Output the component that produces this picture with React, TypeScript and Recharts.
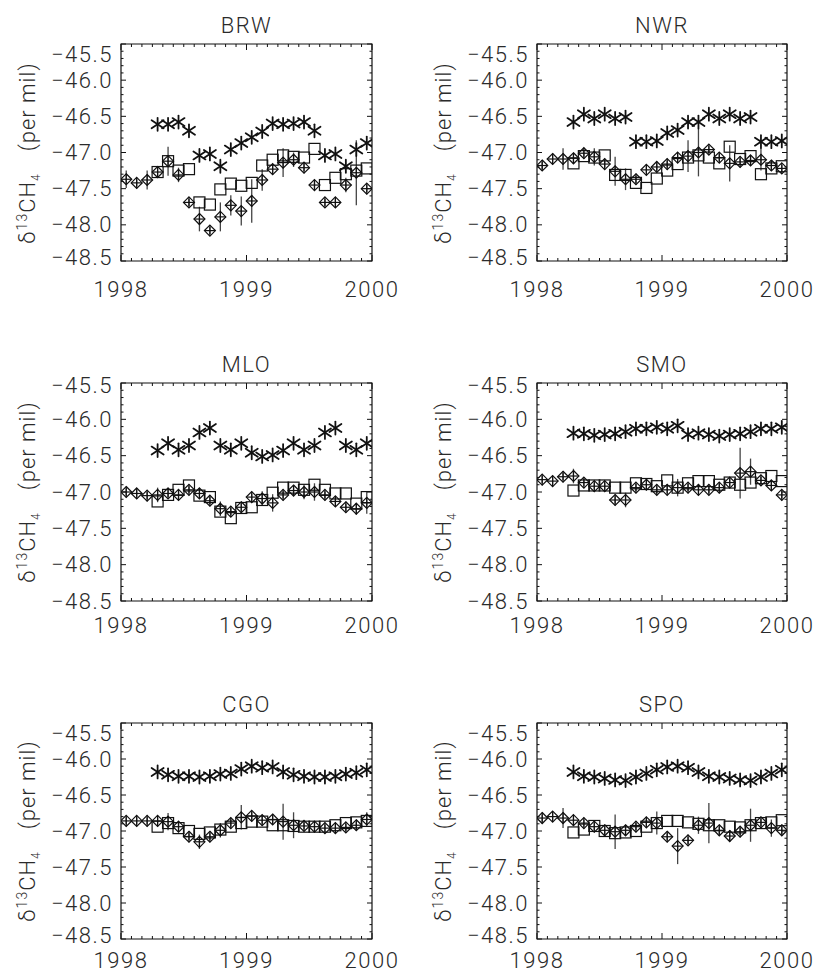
import React from 'react';
import { ScatterChart, Scatter, XAxis, YAxis, ErrorBar, ReferenceArea } from 'recharts';

// mid-month positions, Jan 1998 .. Dec 1999
const MONTHS = Array.from({ length: 24 }, (_, i) => 1998 + (i + 0.5) / 12);

const X_MAJOR = [1998, 1999, 2000];
const Y_MAJOR = [-48.5, -48.0, -47.5, -47.0, -46.5, -46.0, -45.5];

// minor tick positions (monthly on x, 0.1 permil on y)
const X_TICKS = Array.from({ length: 25 }, (_, i) => 1998 + i / 12);
const Y_TICKS = Array.from({ length: 31 }, (_, i) => Math.round((-48.5 + i * 0.1) * 10) / 10);

const BRW_STAR = [null, null, null, -46.61, -46.61, -46.58, -46.7, -47.04, -47.02, -47.19, -46.96, -46.87, -46.79, -46.71, -46.6, -46.61, -46.6, -46.58, -46.7, -47.04, -47.02, -47.19, -46.96, -46.87];
const BRW_SQUARE = [null, null, null, -47.27, -47.12, -47.25, -47.23, -47.69, -47.72, -47.51, -47.43, -47.46, -47.42, -47.18, -47.1, -47.04, -47.06, -47.07, -46.95, -47.45, -47.35, -47.3, -47.25, -47.22];
const BRW_DIAMOND = [-47.37, -47.42, -47.38, -47.27, -47.12, -47.31, -47.69, -47.92, -48.08, -47.89, -47.73, -47.81, -47.67, -47.38, -47.23, -47.14, -47.1, -47.21, -47.45, -47.69, -47.69, -47.45, -47.28, -47.5];
const BRW_ERR = [0.12, 0.05, 0.13, 0.05, 0.2, 0.1, 0.05, 0.17, 0.05, 0.2, 0.14, 0.2, 0.3, 0.15, 0.05, 0.2, 0.1, 0.05, 0.05, 0.05, 0.05, 0.1, 0.45, 0.05];

const NWR_STAR = [null, null, null, -46.58, -46.47, -46.53, -46.47, -46.53, -46.51, -46.85, -46.85, -46.84, -46.73, -46.69, -46.58, -46.58, -46.47, -46.53, -46.47, -46.53, -46.51, -46.85, -46.85, -46.84];
const NWR_SQUARE = [null, null, null, -47.15, -47.05, -47.07, -47.04, -47.31, -47.31, -47.42, -47.49, -47.36, -47.25, -47.16, -47.07, -47.04, -47.07, -47.15, -46.92, -47.09, -47.05, -47.3, -47.22, -47.19];
const NWR_DIAMOND = [-47.18, -47.09, -47.09, -47.08, -47.01, -47.06, -47.16, -47.26, -47.37, -47.37, -47.24, -47.2, -47.16, -47.07, -47.05, -47.0, -46.96, -47.07, -47.15, -47.13, -47.11, -47.1, -47.18, -47.22];
const NWR_ERR = [0.05, 0.05, 0.15, 0.05, 0.05, 0.12, 0.05, 0.2, 0.15, 0.05, 0.05, 0.05, 0.05, 0.05, 0.22, 0.33, 0.05, 0.05, 0.25, 0.05, 0.05, 0.15, 0.05, 0.05];

const MLO_STAR = [null, null, null, -46.43, -46.33, -46.42, -46.36, -46.18, -46.12, -46.36, -46.42, -46.33, -46.46, -46.51, -46.49, -46.43, -46.33, -46.42, -46.36, -46.18, -46.12, -46.36, -46.42, -46.33];
const MLO_SQUARE = [null, null, null, -47.13, -47.04, -46.97, -46.91, -47.05, -47.07, -47.27, -47.36, -47.22, -47.21, -47.11, -47.01, -46.94, -46.94, -46.97, -46.9, -46.97, -47.02, -47.02, -47.16, -47.07];
const MLO_DIAMOND = [-47.0, -47.02, -47.05, -47.04, -47.02, -47.04, -46.97, -47.02, -47.12, -47.23, -47.27, -47.21, -47.07, -47.09, -47.15, -47.04, -46.98, -47.0, -47.0, -47.04, -47.13, -47.21, -47.23, -47.15];
const MLO_ERR = [0.05, 0.05, 0.05, 0.1, 0.05, 0.05, 0.05, 0.05, 0.05, 0.1, 0.05, 0.05, 0.05, 0.1, 0.12, 0.05, 0.05, 0.1, 0.12, 0.05, 0.05, 0.05, 0.08, 0.15];

const SMO_STAR = [null, null, null, -46.19, -46.2, -46.22, -46.21, -46.2, -46.17, -46.13, -46.13, -46.11, -46.13, -46.09, -46.21, -46.19, -46.21, -46.23, -46.21, -46.2, -46.17, -46.13, -46.13, -46.11];
const SMO_SQUARE = [null, null, null, -46.98, -46.91, -46.91, -46.91, -46.94, -46.94, -46.88, -46.89, -46.92, -46.84, -46.94, -46.88, -46.85, -46.85, -46.9, -46.87, -46.9, -46.87, -46.81, -46.78, -46.85];
const SMO_DIAMOND = [-46.83, -46.85, -46.79, -46.78, -46.87, -46.92, -46.92, -47.11, -47.11, -46.94, -46.9, -46.97, -46.97, -46.94, -46.94, -46.97, -46.97, -46.94, -46.87, -46.74, -46.72, -46.84, -46.91, -47.04];
const SMO_ERR = [0.05, 0.05, 0.05, 0.1, 0.05, 0.05, 0.05, 0.05, 0.1, 0.05, 0.05, 0.05, 0.05, 0.12, 0.05, 0.05, 0.05, 0.05, 0.05, 0.35, 0.18, 0.05, 0.05, 0.05];

const CGO_STAR = [null, null, null, -46.18, -46.22, -46.24, -46.24, -46.25, -46.24, -46.21, -46.2, -46.14, -46.1, -46.12, -46.11, -46.18, -46.22, -46.24, -46.25, -46.25, -46.24, -46.21, -46.19, -46.15];
const CGO_SQUARE = [null, null, null, -46.94, -46.89, -46.96, -47.0, -47.04, -47.02, -46.98, -46.94, -46.89, -46.87, -46.87, -46.92, -46.92, -46.93, -46.94, -46.94, -46.94, -46.92, -46.89, -46.88, -46.86];
const CGO_DIAMOND = [-46.86, -46.86, -46.86, -46.86, -46.87, -46.94, -47.08, -47.15, -47.08, -46.99, -46.89, -46.81, -46.79, -46.85, -46.84, -46.87, -46.92, -46.93, -46.94, -46.96, -46.96, -46.95, -46.92, -46.84];
const CGO_ERR = [0.05, 0.05, 0.05, 0.05, 0.12, 0.05, 0.05, 0.1, 0.05, 0.1, 0.05, 0.17, 0.05, 0.05, 0.05, 0.25, 0.18, 0.05, 0.05, 0.05, 0.05, 0.05, 0.05, 0.1];

const SPO_STAR = [null, null, null, -46.18, -46.24, -46.25, -46.27, -46.29, -46.3, -46.25, -46.2, -46.15, -46.11, -46.1, -46.12, -46.18, -46.24, -46.25, -46.27, -46.29, -46.3, -46.25, -46.2, -46.15];
const SPO_SQUARE = [null, null, null, -47.02, -46.98, -46.93, -47.0, -47.03, -47.02, -47.0, -46.94, -46.89, -46.86, -46.86, -46.88, -46.9, -46.92, -46.92, -46.94, -46.95, -46.92, -46.89, -46.88, -46.85];
const SPO_DIAMOND = [-46.82, -46.8, -46.82, -46.85, -46.89, -46.94, -46.99, -47.01, -46.99, -46.94, -46.88, -46.89, -47.08, -47.21, -47.13, -46.92, -46.89, -46.99, -47.07, -47.01, -46.92, -46.88, -46.96, -46.99];
const SPO_ERR = [0.05, 0.05, 0.14, 0.05, 0.05, 0.05, 0.05, 0.24, 0.05, 0.05, 0.05, 0.16, 0.05, 0.25, 0.05, 0.12, 0.28, 0.05, 0.08, 0.05, 0.23, 0.05, 0.12, 0.05];

const FONT = "Roboto, 'Liberation Sans', sans-serif";
const INK = '#111';
const TEXT = '#2a2a2a';

const PANELS = [
  { title: 'BRW', x: 121, y: 44, w: 251, h: 217, star: BRW_STAR, square: BRW_SQUARE, diamond: BRW_DIAMOND, err: BRW_ERR, xLab: 28, topShift: 10, botShift: -4 },
  { title: 'NWR', x: 537, y: 44, w: 250, h: 217, star: NWR_STAR, square: NWR_SQUARE, diamond: NWR_DIAMOND, err: NWR_ERR, xLab: 28, topShift: 10, botShift: -4 },
  { title: 'MLO', x: 121, y: 383, w: 251, h: 218, star: MLO_STAR, square: MLO_SQUARE, diamond: MLO_DIAMOND, err: MLO_ERR, xLab: 24, topShift: 2, botShift: 0 },
  { title: 'SMO', x: 537, y: 383, w: 250, h: 218, star: SMO_STAR, square: SMO_SQUARE, diamond: SMO_DIAMOND, err: SMO_ERR, xLab: 24, topShift: 2, botShift: 0 },
  { title: 'CGO', x: 121, y: 723, w: 251, h: 216, star: CGO_STAR, square: CGO_SQUARE, diamond: CGO_DIAMOND, err: CGO_ERR, xLab: 21, topShift: 10, botShift: -4 },
  { title: 'SPO', x: 537, y: 723, w: 250, h: 216, star: SPO_STAR, square: SPO_SQUARE, diamond: SPO_DIAMOND, err: SPO_ERR, xLab: 21, topShift: 10, botShift: -4 },
];

const toPoints = (vals: (number | null)[], err?: number[]) =>
  MONTHS.map((m, i) => ({ x: m, y: vals[i], err: err ? err[i] : 0 })).filter((p) => p.y !== null);

const Asterisk = (p: any) => {
  const { cx, cy } = p;
  return (
    <g stroke={INK} strokeWidth={1.8} strokeLinecap="round">
      <line x1={cx} y1={cy - 6.5} x2={cx} y2={cy + 6.5} />
      <line x1={cx - 6} y1={cy - 4} x2={cx + 6} y2={cy + 4} />
      <line x1={cx - 6} y1={cy + 4} x2={cx + 6} y2={cy - 4} />
    </g>
  );
};

const Square = (p: any) => {
  const { cx, cy } = p;
  return <rect x={cx - 5.5} y={cy - 5.5} width={11} height={11} fill="none" stroke={INK} strokeWidth={1.2} />;
};

const Diamond = (p: any) => {
  const { cx, cy } = p;
  const r = 5.5;
  return (
    <g stroke={INK} strokeWidth={1.2} fill="none">
      <polygon points={`${cx},${cy - r} ${cx + r},${cy} ${cx},${cy + r} ${cx - r},${cy}`} />
      <line x1={cx - r} y1={cy} x2={cx + r} y2={cy} />
      <line x1={cx} y1={cy - r} x2={cx} y2={cy + r} />
    </g>
  );
};

const isMajorX = (v: number) => X_MAJOR.some((t) => Math.abs(t - v) < 1e-6);
const isMajorY = (v: number) => Y_MAJOR.some((t) => Math.abs(t - v) < 1e-6);

function Panel({ cfg }: { cfg: (typeof PANELS)[number] }) {
  const { x, y, w, h } = cfg;

  const xTick = (p: any) => {
    const v = p.payload.value;
    const major = isMajorX(v);
    const len = major ? 6 : 3;
    return (
      <g>
        <line x1={p.x} y1={p.y} x2={p.x} y2={p.y - len} stroke={INK} strokeWidth={1} />
        <line x1={p.x} y1={p.y - h} x2={p.x} y2={p.y - h + len} stroke={INK} strokeWidth={1} />
        {major && (
          <text x={p.x} y={p.y + cfg.xLab} textAnchor="middle" dominantBaseline="central" fontSize={22} fontWeight={300} letterSpacing={1.5} fill={TEXT} fontFamily={FONT}>
            {Math.round(v)}
          </text>
        )}
      </g>
    );
  };

  const yTick = (p: any) => {
    const v = p.payload.value;
    const major = isMajorY(v);
    const len = major ? 5 : 2.5;
    let dy = 0;
    if (Math.abs(v + 45.5) < 1e-6) dy = cfg.topShift;
    if (Math.abs(v + 48.5) < 1e-6) dy = cfg.botShift;
    return (
      <g>
        <line x1={p.x} y1={p.y} x2={p.x + len} y2={p.y} stroke={INK} strokeWidth={1} />
        <line x1={p.x + w} y1={p.y} x2={p.x + w - len} y2={p.y} stroke={INK} strokeWidth={1} />
        {major && (
          <text x={p.x - 8} y={p.y + dy} textAnchor="end" dominantBaseline="central" fontSize={22} fontWeight={300} letterSpacing={1.5} fill={TEXT} fontFamily={FONT}>
            {'\u2212' + Math.abs(v).toFixed(1)}
          </text>
        )}
      </g>
    );
  };

  return (
    <>
      <div
        style={{
          position: 'absolute',
          left: x + w / 2,
          top: y - 19,
          transform: 'translate(-50%, -50%)',
          fontSize: 22,
          fontWeight: 300,
          letterSpacing: 1.5,
          color: TEXT,
          whiteSpace: 'nowrap',
        }}
      >
        {cfg.title}
      </div>
      <div
        style={{
          position: 'absolute',
          left: x - 93,
          top: y + h / 2,
          transform: 'translate(-50%, -50%) rotate(-90deg)',
          fontSize: 22,
          fontWeight: 300,
          letterSpacing: 1,
          color: TEXT,
          whiteSpace: 'nowrap',
          lineHeight: 1,
        }}
      >
        δ<sup style={{ fontSize: 14, lineHeight: 0 }}>13</sup>CH<sub style={{ fontSize: 12, lineHeight: 0 }}>4</sub>
        <span style={{ marginLeft: 22 }}>(per mil)</span>
      </div>
      <div style={{ position: 'absolute', left: x - 110, top: y - 50 }}>
        <ScatterChart width={w + 150} height={h + 100} margin={{ top: 50, left: 30, right: 40, bottom: 10 }}>
          <XAxis
            type="number"
            dataKey="x"
            domain={[1998, 2000]}
            ticks={X_TICKS}
            interval={0}
            height={40}
            axisLine={false}
            tickLine={false}
            tickSize={0}
            tickMargin={0}
            allowDataOverflow
            tick={xTick}
          />
          <YAxis
            type="number"
            dataKey="y"
            domain={[-48.5, -45.5]}
            ticks={Y_TICKS}
            interval={0}
            width={80}
            axisLine={false}
            tickLine={false}
            tickSize={0}
            tickMargin={0}
            allowDataOverflow
            tick={yTick}
          />
          <ReferenceArea x1={1998} x2={2000} y1={-48.5} y2={-45.5} fill="none" stroke={INK} strokeWidth={1.2} fillOpacity={0} />
          <Scatter data={toPoints(cfg.square)} shape={Square} isAnimationActive={false} />
          <Scatter data={toPoints(cfg.diamond, cfg.err)} shape={Diamond} isAnimationActive={false}>
            <ErrorBar dataKey="err" direction="y" width={0} stroke="#444" strokeWidth={1.3} />
          </Scatter>
          <Scatter data={toPoints(cfg.star)} shape={Asterisk} isAnimationActive={false} />
        </ScatterChart>
      </div>
    </>
  );
}

export default function App() {
  return (
    <div
      style={{
        position: 'absolute',
        left: 0,
        top: 0,
        width: 815,
        height: 973,
        background: '#fff',
        fontFamily: FONT,
      }}
    >
      {PANELS.map((cfg) => (
        <Panel key={cfg.title} cfg={cfg} />
      ))}
    </div>
  );
}
